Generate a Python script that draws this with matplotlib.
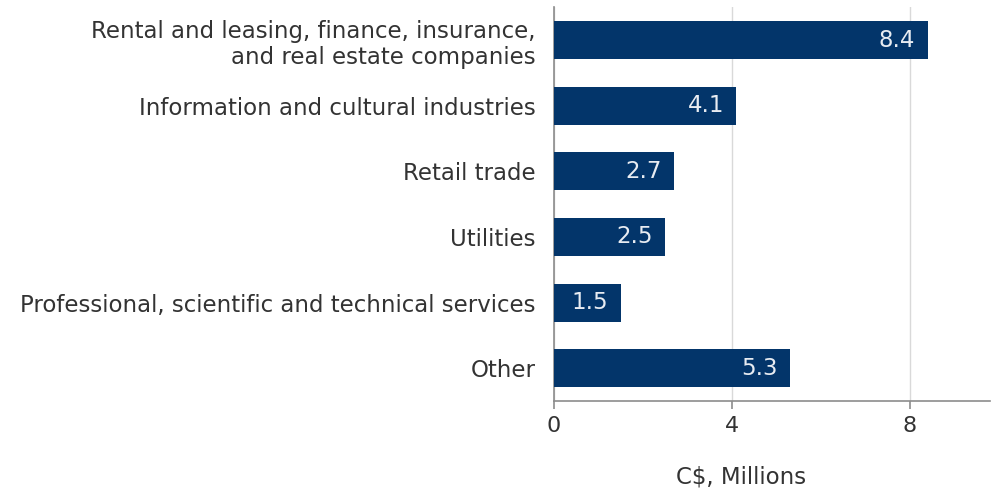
import matplotlib.pyplot as plt
import matplotlib

matplotlib.rcParams['font.family'] = ['DejaVu Sans']

categories = ["Rental and leasing, finance, insurance,\nand real estate companies",
              "Information and cultural industries",
              "Retail trade",
              "Utilities",
              "Professional, scientific and technical services",
              "Other"]
values = [8.4, 4.1, 2.7, 2.5, 1.5, 5.3]
xticks = [0, 4, 8]

bar_color = "#03356A"
text_color = "#333333"
axis_color = "#8c8c8c"

fig = plt.figure(figsize=(9.91, 4.92), dpi=100)
ax = fig.add_axes([0.559, 0.185, 0.44, 0.80])

ypos = list(range(len(categories)))
ax.barh(ypos, values, height=0.58, color=bar_color, zorder=3)
for y, v in zip(ypos, values):
    ax.text(v - 0.28, y, f"{v}", ha="right", va="center", color="#e8ecf2",
            fontsize=16.5, zorder=4)

ax.set_yticks(ypos)
ax.set_yticklabels(categories, fontsize=16.5, color=text_color, linespacing=1.2)
ax.set_ylim(5.5, -0.5)
ax.set_xlim(0, 9.8)
ax.set_xticks(xticks)
ax.set_xticklabels([str(t) for t in xticks], fontsize=16, color=text_color)

ax.tick_params(axis="y", length=0, pad=13)
ax.tick_params(axis="x", length=6, color=axis_color, width=1.2, pad=5)
ax.grid(axis="x", color="#d9d9d9", linewidth=1, zorder=0)

for s in ["top", "right"]:
    ax.spines[s].set_visible(False)
ax.spines["left"].set_color(axis_color)
ax.spines["bottom"].set_color(axis_color)
ax.spines["left"].set_linewidth(1.2)
ax.spines["bottom"].set_linewidth(1.2)

ax.set_xlabel("C$, Millions", fontsize=16.5, color=text_color)
ax.xaxis.set_label_coords(0.43, -0.165)

plt.savefig("out.png", dpi=100)
